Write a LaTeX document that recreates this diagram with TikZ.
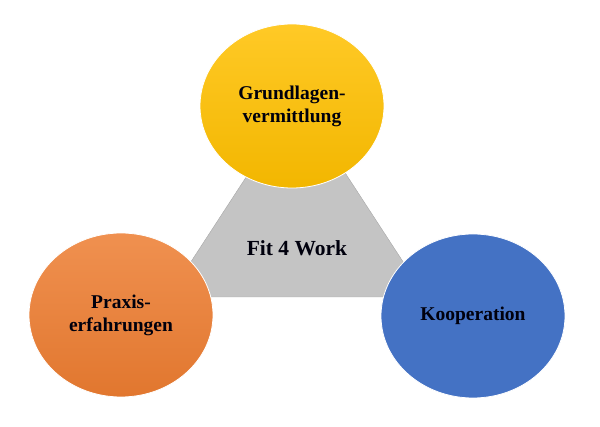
\documentclass[tikz,border=0pt]{standalone}
\usepackage{fontspec}
\setmainfont{Liberation Serif}
\usetikzlibrary{shapes.geometric}
\definecolor{gelb}{HTML}{FFC000}
\definecolor{orng}{HTML}{ED7D31}
\definecolor{blau}{HTML}{4472C4}
\definecolor{grau}{HTML}{C4C4C4}
\tikzset{
  kreis/.style={ellipse,minimum width=184pt,minimum height=164pt,inner sep=0pt,
    draw=white,line width=0.8pt,align=center,font=\fontsize{19.5}{23}\selectfont\bfseries,
    text=black!95!blue},
}
\begin{document}
\begin{tikzpicture}[x=1pt,y=-1pt]
\useasboundingbox (0,0) rectangle (600,427);
% Dreieck in der Mitte
\coordinate (spitze) at (297,99);
\coordinate (links) at (168,297);
\coordinate (rechts) at (426,297);
\draw[fill=grau,draw=grau!85!black,line width=0.4pt](spitze)--(links)--(rechts)--cycle;
\node[font=\fontsize{21.5}{24}\selectfont\bfseries,text=black!95!blue] (fit) at (297,248) {Fit 4 Work};
% Kreise
\node[kreis,top color=gelb!85!white,bottom color=gelb!95!black] (grund) at (292,106) {Grundlagen-\\vermittlung};
\node[kreis,top color=orng!85!white,bottom color=orng!95!black] (praxis) at (121,315) {Praxis-\\erfahrungen};
\node[kreis,fill=blau] (koop) at (473,316) {Kooperation};
\end{tikzpicture}
\end{document}
